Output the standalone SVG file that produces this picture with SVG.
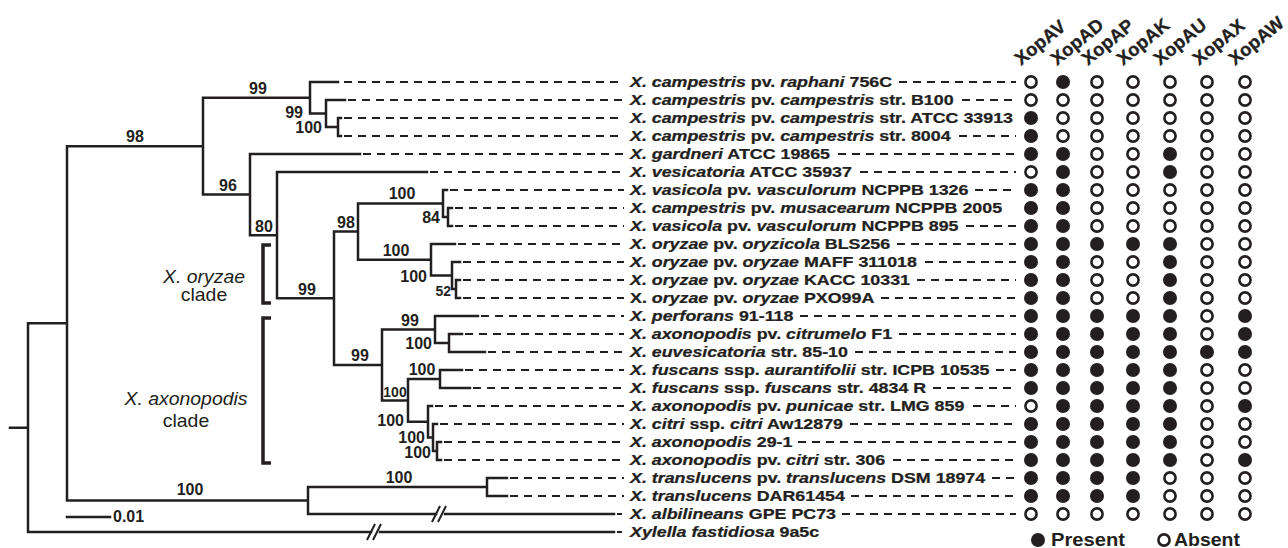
<svg xmlns="http://www.w3.org/2000/svg" width="1288" height="548" viewBox="0 0 1288 548">
<style>
.br{fill:none;stroke:#231f20;stroke-width:2.5;stroke-linecap:square}
.ds{fill:none;stroke:#231f20;stroke-width:2;stroke-dasharray:8 6}
.bk{fill:none;stroke:#231f20;stroke-width:3.5}
.sl{fill:none;stroke:#231f20;stroke-width:2}
.bs{font-family:"Liberation Sans",Arial,sans-serif;font-weight:bold;font-size:16px;fill:#231f20}
.bs2{font-family:"Liberation Sans",Arial,sans-serif;font-weight:bold;font-size:14px;fill:#231f20}
.lb{font-family:"Liberation Sans",Arial,sans-serif;font-weight:bold;font-size:14.2px;fill:#231f20;stroke:#231f20;stroke-width:0.25}
.cl{font-family:"Liberation Sans",Arial,sans-serif;font-size:18px;fill:#231f20;text-anchor:middle}
.hd{font-family:"Liberation Sans",Arial,sans-serif;font-weight:bold;font-size:18.5px;fill:#231f20;stroke:#231f20;stroke-width:0.3}
.lg{font-family:"Liberation Sans",Arial,sans-serif;font-weight:bold;font-size:18px;fill:#231f20}
.i{font-style:italic}
.f{fill:#231f20}
.o{fill:#fff;stroke:#231f20;stroke-width:2.6}
.m{text-anchor:middle}
.e{text-anchor:end}
</style>
<rect width="1288" height="548" fill="#fff"/>

<g id="connectors">
<path class="br" d="M10 427.7H28M28 323.3V532M28 323.3H67M67 146.2V500.5M67 146.2H203M67 500.5H308
M203 97.75V194.6M203 97.75H310M203 194.6H250
M310 82V113.5M310 82H338M310 113.5H326
M326 100V127M326 100H345M326 127H338
M338 118V136M338 118H341M338 136H341
M250 154V235.2M250 154H360M250 235.2H277
M277 172V298.3M277 172H427M277 298.3H334
M334 231.6V365M334 231.6H358M334 365H382
M358 203.5V259.75M358 203.5H443M358 259.75H431
M443 190V217M443 190H447M443 217H448
M448 208V226M448 208H452M448 226H452
M431 244V275.5M431 244H455M431 275.5H452
M452 262V289M452 262H460M452 289H456
M456 280V298M456 280H460M456 298H460
M382 329.5V400.4M382 329.5H435M382 400.4H408
M435 316V343M435 316H478M435 343H449
M449 334V352M449 334H462M449 352H485
M408 379V421.75M408 379H440M408 421.75H428
M440 370V388M440 370H462M440 388H470
M428 406V437.5M428 406H432M428 437.5H433
M433 424V451M433 424H437M433 451H437
M437 442V460M437 442H441M437 460H441
M308 487V514M308 487H487M487 478V496M487 478H507M487 496H507
M308 514H436M445 514H614
M28 532H371M380 532H614"/>
<path class="sl" d="M432 522L440 506M438 522L446 506M367 540L375 524M373 540L381 524"/>
<path class="br" d="M67 517H110"/>
<path class="ds" d="M344 82H624M348 100H624M344 118H624M344 136H624M363 154H624M430 172H624M450 190H624M455 208H624M455 226H624M458 244H624M463 262H624M463 280H624M463 298H624M481 316H624M465 334H624M488 352H624M465 370H624M473 388H624M435 406H624M440 424H624M444 442H624M444 460H624M510 478H624M510 496H624"/>
<path class="sl" d="M617 514H622M617 532H622"/>
<path class="ds" d="M899 82H1016M962 100H1016M959 136H1016M838 154H1016M860 172H1016M975 190H1016M966 226H1016M897 244H1016M925 262H1016M917 280H1016M881 298H1016M800 316H1016M899 334H1016M855 352H1016M996 370H1016M933 388H1016M973 406H1016M850 424H1016M798 442H1016M893 460H1016M992 478H1016M851 496H1016M842 514H1016"/>
</g>

<g id="bootstrap">
<text class="bs m" x="135" y="142">98</text>
<text class="bs m" x="258" y="94">99</text>
<text class="bs e" x="303" y="118">99</text>
<text class="bs e" x="322" y="133">100</text>
<text class="bs m" x="228" y="191">96</text>
<text class="bs m" x="264" y="232">80</text>
<text class="bs m" x="307" y="295">99</text>
<text class="bs m" x="346" y="228">98</text>
<text class="bs m" x="402" y="199">100</text>
<text class="bs e" x="440" y="223">84</text>
<text class="bs m" x="396" y="256">100</text>
<text class="bs e" x="427" y="282">100</text>
<text class="bs2 e" x="451" y="296">52</text>
<text class="bs m" x="410" y="326">99</text>
<text class="bs e" x="432" y="349">100</text>
<text class="bs m" x="360" y="361">99</text>
<text class="bs m" x="422" y="375">100</text>
<text class="bs2 m" x="395" y="397">100</text>
<text class="bs e" x="404" y="426">100</text>
<text class="bs e" x="425" y="443">100</text>
<text class="bs e" x="431" y="458">100</text>
<text class="bs m" x="190" y="495">100</text>
<text class="bs m" x="399" y="483">100</text>
<text class="bs" x="113" y="522">0.01</text>
</g>

<g id="clade-oryzae">
<path class="bk" d="M271 245H263V303H271"/>
<text class="cl" transform="translate(204 283) scale(1.08 1)"><tspan class="i">X. oryzae</tspan></text>
<text class="cl" transform="translate(204 301) scale(1.08 1)">clade</text>
</g>
<g id="clade-axonopodis">
<path class="bk" d="M271 318H263V463H271"/>
<text class="cl" transform="translate(186 405) scale(1.08 1)"><tspan class="i">X. axonopodis</tspan></text>
<text class="cl" transform="translate(186 427) scale(1.08 1)">clade</text>
</g>

<g id="headers">
<text class="hd" transform="translate(1021 66) rotate(-39)">XopAV</text>
<text class="hd" transform="translate(1057 66) rotate(-39)">XopAD</text>
<text class="hd" transform="translate(1088 66) rotate(-39)">XopAP</text>
<text class="hd" transform="translate(1123 66) rotate(-39)">XopAK</text>
<text class="hd" transform="translate(1160 66) rotate(-39)">XopAU</text>
<text class="hd" transform="translate(1199 66) rotate(-39)">XopAX</text>
<text class="hd" transform="translate(1235 66) rotate(-39)">XopAW</text>
</g>

<defs>
<circle id="P" r="7" class="f"/>
<circle id="A" r="5.6" class="o"/>
</defs>

<g id="t1"><text class="lb" transform="translate(630 87) scale(1.255 1)"><tspan class="i">X. campestris</tspan> pv. <tspan class="i">raphani</tspan> 756C</text>
<use href="#A" x="1031" y="82"/><use href="#P" x="1063" y="82"/><use href="#A" x="1097" y="82"/><use href="#A" x="1133" y="82"/><use href="#A" x="1170" y="82"/><use href="#A" x="1207" y="82"/><use href="#A" x="1245" y="82"/></g>
<g id="t2"><text class="lb" transform="translate(630 105) scale(1.255 1)"><tspan class="i">X. campestris</tspan> pv. <tspan class="i">campestris</tspan> str. B100</text>
<use href="#A" x="1031" y="100"/><use href="#A" x="1063" y="100"/><use href="#A" x="1097" y="100"/><use href="#A" x="1133" y="100"/><use href="#A" x="1170" y="100"/><use href="#A" x="1207" y="100"/><use href="#A" x="1245" y="100"/></g>
<g id="t3"><text class="lb" transform="translate(630 123) scale(1.255 1)"><tspan class="i">X. campestris</tspan> pv. <tspan class="i">campestris</tspan> str. ATCC 33913</text>
<use href="#P" x="1031" y="118"/><use href="#A" x="1063" y="118"/><use href="#A" x="1097" y="118"/><use href="#A" x="1133" y="118"/><use href="#A" x="1170" y="118"/><use href="#A" x="1207" y="118"/><use href="#A" x="1245" y="118"/></g>
<g id="t4"><text class="lb" transform="translate(630 141) scale(1.255 1)"><tspan class="i">X. campestris</tspan> pv. <tspan class="i">campestris</tspan> str. 8004</text>
<use href="#P" x="1031" y="136"/><use href="#A" x="1063" y="136"/><use href="#A" x="1097" y="136"/><use href="#A" x="1133" y="136"/><use href="#A" x="1170" y="136"/><use href="#A" x="1207" y="136"/><use href="#A" x="1245" y="136"/></g>
<g id="t5"><text class="lb" transform="translate(630 159) scale(1.255 1)"><tspan class="i">X. gardneri</tspan> ATCC 19865</text>
<use href="#P" x="1031" y="154"/><use href="#P" x="1063" y="154"/><use href="#A" x="1097" y="154"/><use href="#A" x="1133" y="154"/><use href="#P" x="1170" y="154"/><use href="#A" x="1207" y="154"/><use href="#A" x="1245" y="154"/></g>
<g id="t6"><text class="lb" transform="translate(630 177) scale(1.255 1)"><tspan class="i">X. vesicatoria</tspan> ATCC 35937</text>
<use href="#A" x="1031" y="172"/><use href="#P" x="1063" y="172"/><use href="#A" x="1097" y="172"/><use href="#A" x="1133" y="172"/><use href="#P" x="1170" y="172"/><use href="#A" x="1207" y="172"/><use href="#A" x="1245" y="172"/></g>
<g id="t7"><text class="lb" transform="translate(630 195) scale(1.255 1)"><tspan class="i">X. vasicola</tspan> pv. <tspan class="i">vasculorum</tspan> NCPPB 1326</text>
<use href="#P" x="1031" y="190"/><use href="#P" x="1063" y="190"/><use href="#A" x="1097" y="190"/><use href="#A" x="1133" y="190"/><use href="#A" x="1170" y="190"/><use href="#A" x="1207" y="190"/><use href="#A" x="1245" y="190"/></g>
<g id="t8"><text class="lb" transform="translate(630 213) scale(1.255 1)"><tspan class="i">X. campestris</tspan> pv. <tspan class="i">musacearum</tspan> NCPPB 2005</text>
<use href="#P" x="1031" y="208"/><use href="#P" x="1063" y="208"/><use href="#A" x="1097" y="208"/><use href="#A" x="1133" y="208"/><use href="#A" x="1170" y="208"/><use href="#A" x="1207" y="208"/><use href="#A" x="1245" y="208"/></g>
<g id="t9"><text class="lb" transform="translate(630 231) scale(1.255 1)"><tspan class="i">X. vasicola</tspan> pv. <tspan class="i">vasculorum</tspan> NCPPB 895</text>
<use href="#P" x="1031" y="226"/><use href="#P" x="1063" y="226"/><use href="#A" x="1097" y="226"/><use href="#A" x="1133" y="226"/><use href="#A" x="1170" y="226"/><use href="#A" x="1207" y="226"/><use href="#A" x="1245" y="226"/></g>
<g id="t10"><text class="lb" transform="translate(630 249) scale(1.255 1)"><tspan class="i">X. oryzae</tspan> pv. <tspan class="i">oryzicola</tspan> BLS256</text>
<use href="#P" x="1031" y="244"/><use href="#P" x="1063" y="244"/><use href="#P" x="1097" y="244"/><use href="#P" x="1133" y="244"/><use href="#P" x="1170" y="244"/><use href="#A" x="1207" y="244"/><use href="#A" x="1245" y="244"/></g>
<g id="t11"><text class="lb" transform="translate(630 267) scale(1.255 1)"><tspan class="i">X. oryzae</tspan> pv. <tspan class="i">oryzae</tspan> MAFF 311018</text>
<use href="#P" x="1031" y="262"/><use href="#P" x="1063" y="262"/><use href="#A" x="1097" y="262"/><use href="#A" x="1133" y="262"/><use href="#P" x="1170" y="262"/><use href="#A" x="1207" y="262"/><use href="#A" x="1245" y="262"/></g>
<g id="t12"><text class="lb" transform="translate(630 285) scale(1.255 1)"><tspan class="i">X. oryzae</tspan> pv. <tspan class="i">oryzae</tspan> KACC 10331</text>
<use href="#P" x="1031" y="280"/><use href="#P" x="1063" y="280"/><use href="#A" x="1097" y="280"/><use href="#A" x="1133" y="280"/><use href="#P" x="1170" y="280"/><use href="#A" x="1207" y="280"/><use href="#A" x="1245" y="280"/></g>
<g id="t13"><text class="lb" transform="translate(630 303) scale(1.255 1)">X. <tspan class="i">oryzae</tspan> pv. <tspan class="i">oryzae</tspan> PXO99A</text>
<use href="#P" x="1031" y="298"/><use href="#P" x="1063" y="298"/><use href="#A" x="1097" y="298"/><use href="#A" x="1133" y="298"/><use href="#P" x="1170" y="298"/><use href="#A" x="1207" y="298"/><use href="#A" x="1245" y="298"/></g>
<g id="t14"><text class="lb" transform="translate(630 321) scale(1.255 1)"><tspan class="i">X. perforans</tspan> 91-118</text>
<use href="#P" x="1031" y="316"/><use href="#P" x="1063" y="316"/><use href="#P" x="1097" y="316"/><use href="#P" x="1133" y="316"/><use href="#P" x="1170" y="316"/><use href="#A" x="1207" y="316"/><use href="#P" x="1245" y="316"/></g>
<g id="t15"><text class="lb" transform="translate(630 339) scale(1.255 1)"><tspan class="i">X. axonopodis</tspan> pv. <tspan class="i">citrumelo</tspan> F1</text>
<use href="#P" x="1031" y="334"/><use href="#P" x="1063" y="334"/><use href="#P" x="1097" y="334"/><use href="#P" x="1133" y="334"/><use href="#P" x="1170" y="334"/><use href="#A" x="1207" y="334"/><use href="#P" x="1245" y="334"/></g>
<g id="t16"><text class="lb" transform="translate(630 357) scale(1.255 1)"><tspan class="i">X. euvesicatoria</tspan> str. 85-10</text>
<use href="#P" x="1031" y="352"/><use href="#P" x="1063" y="352"/><use href="#P" x="1097" y="352"/><use href="#P" x="1133" y="352"/><use href="#P" x="1170" y="352"/><use href="#P" x="1207" y="352"/><use href="#P" x="1245" y="352"/></g>
<g id="t17"><text class="lb" transform="translate(630 375) scale(1.255 1)"><tspan class="i">X. fuscans</tspan> ssp. <tspan class="i">aurantifolii</tspan> str. ICPB 10535</text>
<use href="#P" x="1031" y="370"/><use href="#P" x="1063" y="370"/><use href="#P" x="1097" y="370"/><use href="#P" x="1133" y="370"/><use href="#P" x="1170" y="370"/><use href="#A" x="1207" y="370"/><use href="#A" x="1245" y="370"/></g>
<g id="t18"><text class="lb" transform="translate(630 393) scale(1.255 1)"><tspan class="i">X. fuscans</tspan> ssp. <tspan class="i">fuscans</tspan> str. 4834 R</text>
<use href="#P" x="1031" y="388"/><use href="#P" x="1063" y="388"/><use href="#P" x="1097" y="388"/><use href="#P" x="1133" y="388"/><use href="#P" x="1170" y="388"/><use href="#A" x="1207" y="388"/><use href="#A" x="1245" y="388"/></g>
<g id="t19"><text class="lb" transform="translate(630 411) scale(1.255 1)"><tspan class="i">X. axonopodis</tspan> pv. <tspan class="i">punicae</tspan> str. LMG 859</text>
<use href="#A" x="1031" y="406"/><use href="#P" x="1063" y="406"/><use href="#P" x="1097" y="406"/><use href="#P" x="1133" y="406"/><use href="#P" x="1170" y="406"/><use href="#A" x="1207" y="406"/><use href="#P" x="1245" y="406"/></g>
<g id="t20"><text class="lb" transform="translate(630 429) scale(1.255 1)"><tspan class="i">X. citri</tspan> ssp. <tspan class="i">citri</tspan> Aw12879</text>
<use href="#P" x="1031" y="424"/><use href="#P" x="1063" y="424"/><use href="#P" x="1097" y="424"/><use href="#P" x="1133" y="424"/><use href="#P" x="1170" y="424"/><use href="#A" x="1207" y="424"/><use href="#A" x="1245" y="424"/></g>
<g id="t21"><text class="lb" transform="translate(630 447) scale(1.255 1)"><tspan class="i">X. axonopodis</tspan> 29-1</text>
<use href="#P" x="1031" y="442"/><use href="#P" x="1063" y="442"/><use href="#P" x="1097" y="442"/><use href="#P" x="1133" y="442"/><use href="#P" x="1170" y="442"/><use href="#A" x="1207" y="442"/><use href="#A" x="1245" y="442"/></g>
<g id="t22"><text class="lb" transform="translate(630 465) scale(1.255 1)"><tspan class="i">X. axonopodis</tspan> pv. <tspan class="i">citri</tspan> str. 306</text>
<use href="#P" x="1031" y="460"/><use href="#P" x="1063" y="460"/><use href="#P" x="1097" y="460"/><use href="#P" x="1133" y="460"/><use href="#P" x="1170" y="460"/><use href="#A" x="1207" y="460"/><use href="#P" x="1245" y="460"/></g>
<g id="t23"><text class="lb" transform="translate(630 483) scale(1.255 1)"><tspan class="i">X. translucens</tspan> pv. <tspan class="i">translucens</tspan> DSM 18974</text>
<use href="#P" x="1031" y="478"/><use href="#P" x="1063" y="478"/><use href="#P" x="1097" y="478"/><use href="#P" x="1133" y="478"/><use href="#A" x="1170" y="478"/><use href="#A" x="1207" y="478"/><use href="#A" x="1245" y="478"/></g>
<g id="t24"><text class="lb" transform="translate(630 501) scale(1.255 1)"><tspan class="i">X. translucens</tspan> DAR61454</text>
<use href="#P" x="1031" y="496"/><use href="#P" x="1063" y="496"/><use href="#P" x="1097" y="496"/><use href="#P" x="1133" y="496"/><use href="#A" x="1170" y="496"/><use href="#A" x="1207" y="496"/><use href="#A" x="1245" y="496"/></g>
<g id="t25"><text class="lb" transform="translate(630 519) scale(1.255 1)"><tspan class="i">X. albilineans</tspan> GPE PC73</text>
<use href="#A" x="1031" y="514"/><use href="#A" x="1063" y="514"/><use href="#A" x="1097" y="514"/><use href="#A" x="1133" y="514"/><use href="#A" x="1170" y="514"/><use href="#A" x="1207" y="514"/><use href="#A" x="1245" y="514"/></g>
<g id="t26"><text class="lb" transform="translate(630 537) scale(1.255 1)"><tspan class="i">Xylella fastidiosa</tspan> 9a5c</text></g>

<g id="legend">
<use href="#P" x="1038" y="540"/>
<text class="lg" x="1051" y="546" textLength="74" lengthAdjust="spacingAndGlyphs">Present</text>
<use href="#A" x="1164" y="540"/>
<text class="lg" x="1174" y="546" textLength="66" lengthAdjust="spacingAndGlyphs">Absent</text>
</g>
</svg>
